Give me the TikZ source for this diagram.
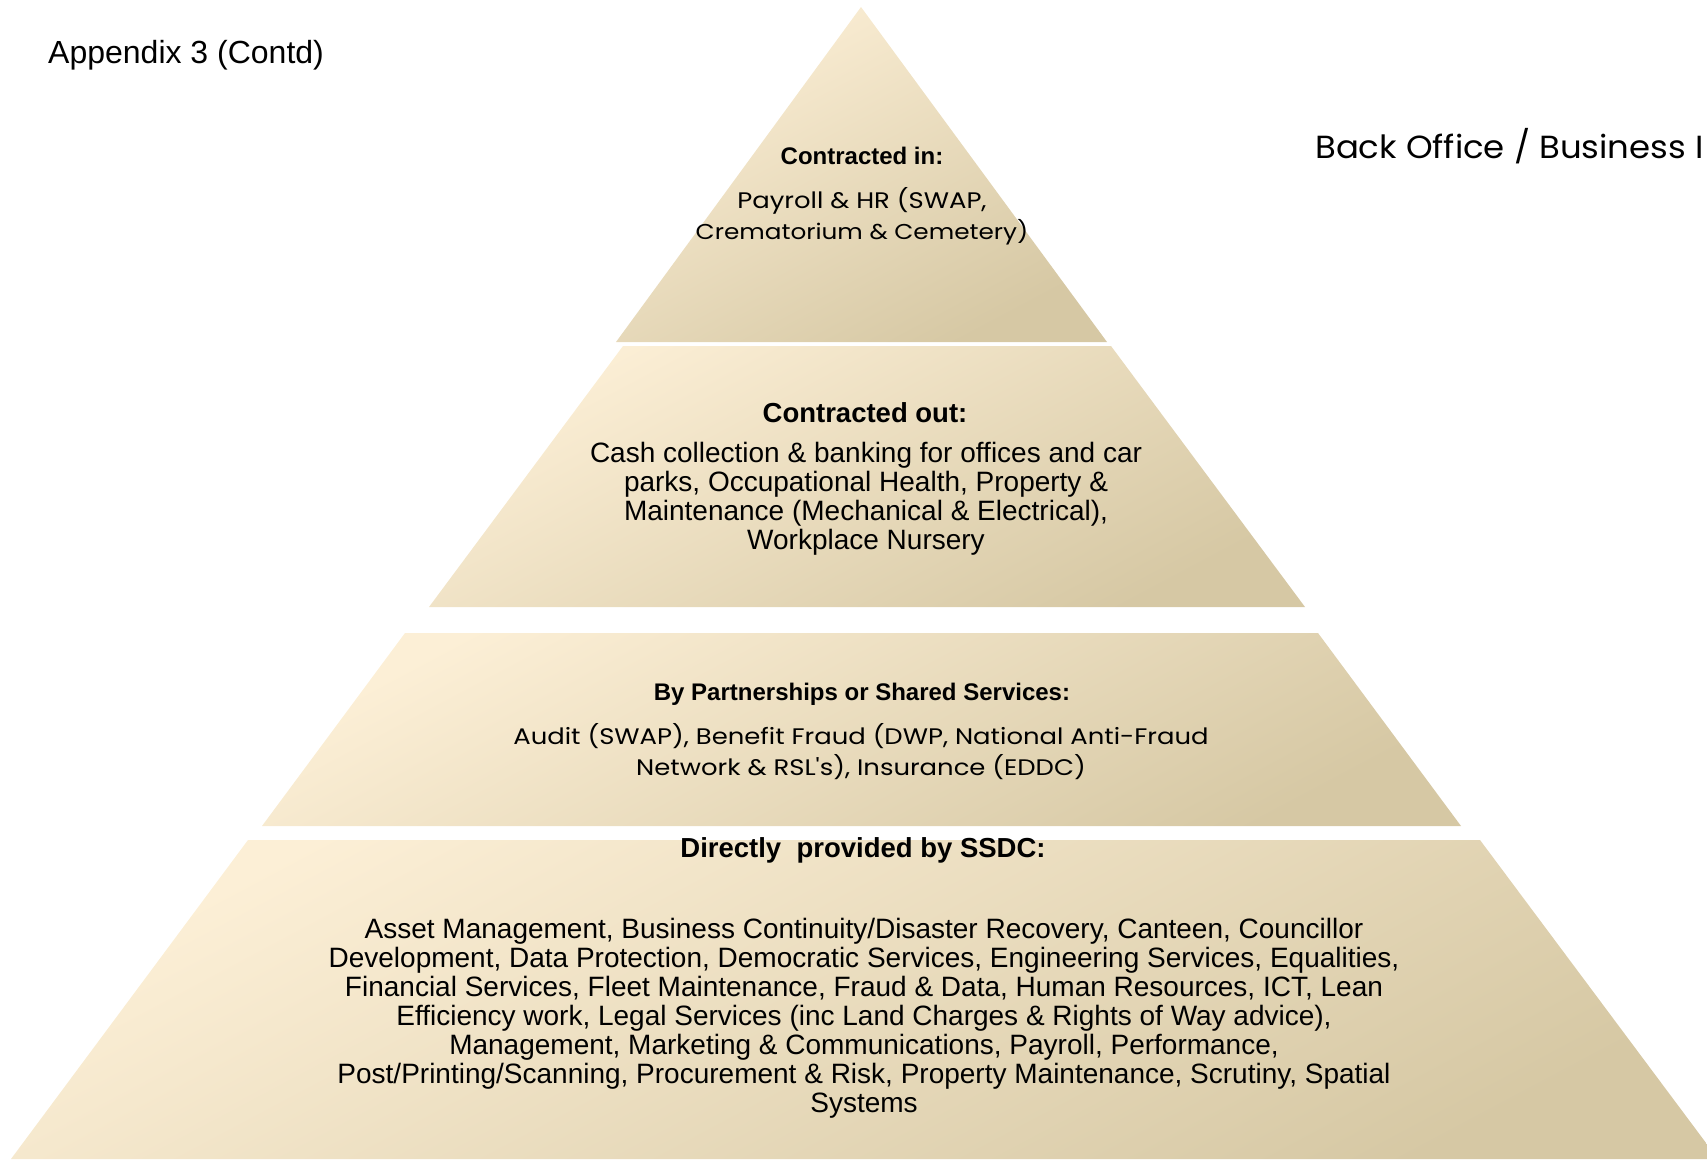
\documentclass[tikz,border=0pt]{standalone}
\usepackage{fontspec}
\setmainfont{Liberation Sans}
\newfontfamily\geo{Poppins}[FakeStretch=1.15]
\newfontfamily\geoside{Poppins}[FakeStretch=1.06]
\definecolor{tierlight}{HTML}{FCEFD6}
\definecolor{tiermid}{HTML}{F1EAD8}
\definecolor{tierdark}{HTML}{D6C8A4}
\newcommand\tblock[2]{\vtop{\hsize=#1\centering #2\par}}
\begin{document}
\begin{tikzpicture}[x=1pt,y=-1pt,
  tier/.style={top color=tierlight, middle color=tiermid, bottom color=tierdark, shading angle=28},
  txt/.style={inner sep=0pt, anchor=base},
  head/.style={txt, font=\fontsize{24}{29}\selectfont\bfseries},
  headbig/.style={txt, font=\fontsize{27.5}{29}\selectfont\bfseries},
  body/.style={txt, font=\fontsize{28}{29}\selectfont},
  geobody/.style={txt, font=\geo\fontsize{22.5}{31}\selectfont}]
\useasboundingbox (0,0) rectangle (1707,1159);
\begin{scope}
\clip (0,0) rectangle (1707,1159);
% tiers
\shade[tier] (861,7) -- (1107,342) -- (616,342) -- cycle;
\shade[tier] (623,346) -- (1111,346) -- (1305,607) -- (429,607) -- cycle;
\shade[tier] (405,633) -- (1318,633) -- (1461,826) -- (262,826) -- cycle;
\shade[tier] (248,840) -- (1480,840) -- (1718,1159) -- (11,1159) -- cycle;
% side title (cut by the page edge)
\node[txt, anchor=base west, font=\geoside\fontsize{32}{36}\selectfont] (side) at (1315,158) {Back Office / Business I};
\end{scope}
% title
\node[txt, anchor=base west, font=\fontsize{32}{36}\selectfont] (title) at (48,63) {Appendix 3 (Contd)};
% tier 1
\node[head] (h1) at (862,164) {Contracted in:};
\node[geobody] (b1) at (862,208) {\tblock{400pt}{Payroll \& HR (SWAP,\\{\fontsize{21.5}{31}\selectfont Crematorium \& Cemetery)}}};
% tier 2
\node[headbig] (h2) at (865,422) {Contracted out:};
\node[body] (b2) at (866,462) {\tblock{640pt}{Cash collection \& banking for offices and car\\parks, Occupational Health, Property \&\\Maintenance (Mechanical \& Electrical),\\Workplace Nursery}};
% tier 3
\node[head] (h3) at (862,700) {By Partnerships or Shared Services:};
\node[geobody] (b3) at (861,744) {\tblock{820pt}{Audit (SWAP), Benefit Fraud (DWP, National Anti-Fraud\\Network \& RSL's), Insurance (EDDC)}};
% tier 4
\node[headbig] (h4) at (863,857) {Directly~ provided by SSDC:};
\node[body] (b4) at (864,938) {\tblock{1180pt}{Asset Management, Business Continuity/Disaster Recovery, Canteen, Councillor\\Development, Data Protection, Democratic Services, Engineering Services, Equalities,\\Financial Services, Fleet Maintenance, Fraud \& Data, Human Resources, ICT, Lean\\Efficiency work, Legal Services (inc Land Charges \& Rights of Way advice),\\Management, Marketing \& Communications, Payroll, Performance,\\Post/Printing/Scanning, Procurement \& Risk, Property Maintenance, Scrutiny, Spatial\\Systems}};
\end{tikzpicture}
\end{document}
